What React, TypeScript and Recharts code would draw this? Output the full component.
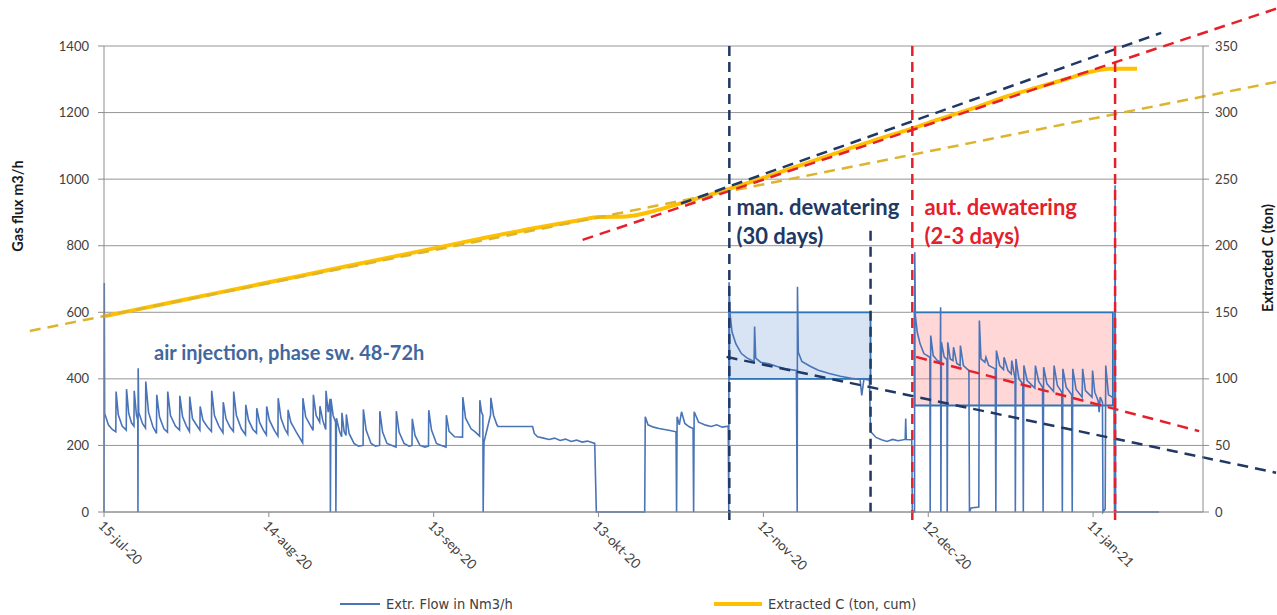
import {
  ComposedChart,
  Line,
  XAxis,
  YAxis,
  CartesianGrid,
  ReferenceLine,
  ReferenceArea,
  ReferenceDot,
} from "recharts";

// x = days since 15-jul-20
const dateTicks = [0, 30, 60, 90, 120, 150, 180];
const dateLabels = ["15-jul-20", "14-aug-20", "13-sep-20", "13-okt-20", "12-nov-20", "12-dec-20", "11-jan-21"];
const flowTicks = [0, 200, 400, 600, 800, 1000, 1200, 1400];
const carbonTicks = [0, 50, 100, 150, 200, 250, 300, 350];

// [day, Extr. Flow in Nm3/h]
const flowPoints: [number, number][] = [
  [0, 0], [0.05, 688], [0.12, 296], [0.8, 262], [1.5, 248], [2.15, 241],
  [2.2, 362], [2.6, 292], [3.3, 258], [4.05, 246],
  [4.1, 369], [4.5, 296], [5.0, 268], [5.45, 258],
  [5.5, 364], [5.9, 292], [6.15, 276], [6.18, 0], [6.22, 432], [6.32, 300], [7.0, 266], [7.55, 252],
  [7.6, 392], [8.1, 300], [8.9, 256], [9.55, 236],
  [9.6, 352], [10.1, 286], [10.9, 250], [11.55, 240],
  [11.6, 362], [12.1, 290], [13.0, 258], [13.75, 246],
  [13.8, 349], [14.3, 286], [15.0, 258], [15.55, 242],
  [15.6, 347], [16.1, 280], [16.8, 262], [17.45, 246],
  [17.5, 317], [18.0, 276], [18.8, 256], [19.55, 242],
  [19.6, 364], [20.1, 290], [20.9, 258], [21.65, 238],
  [21.7, 330], [22.2, 280], [22.9, 256], [23.55, 242],
  [23.6, 362], [24.1, 290], [25.0, 250], [25.75, 232],
  [25.8, 322], [26.3, 276], [27.1, 248], [27.75, 237],
  [27.8, 312], [28.3, 270], [29.0, 246], [29.55, 232],
  [29.6, 317], [30.1, 276], [31.0, 245], [31.65, 228],
  [31.7, 342], [32.2, 282], [32.9, 250], [33.45, 234],
  [33.5, 307], [34.0, 270], [35.0, 240], [36.15, 208],
  [36.2, 342], [36.7, 286], [37.5, 262], [38.05, 245],
  [38.1, 352], [38.6, 290], [39.25, 270], [39.3, 318], [39.8, 276], [40.35, 248],
  [40.4, 364], [40.8, 300], [41.15, 340], [41.2, 0], [41.3, 340], [41.7, 290], [42.15, 270], [42.2, 0], [42.3, 282], [42.9, 240], [43.25, 226],
  [43.3, 298], [43.7, 242], [44.05, 230], [44.1, 293], [44.6, 236], [45.5, 206], [46.3, 198], [47.15, 200],
  [47.2, 308], [47.7, 246], [48.6, 206], [49.4, 198], [50.15, 200],
  [50.2, 303], [50.7, 240], [51.5, 206], [52.4, 200], [53.15, 195],
  [53.2, 303], [53.7, 240], [54.6, 206], [55.5, 198], [56.05, 200],
  [56.1, 280], [56.6, 230], [57.5, 200], [58.4, 195], [59.05, 198],
  [59.1, 306], [59.6, 246], [60.5, 206], [61.4, 200], [62.25, 195],
  [62.3, 291], [62.8, 242], [63.8, 226], [65.25, 225],
  [65.3, 345], [65.8, 282], [66.8, 250], [67.6, 240], [68.35, 228],
  [68.4, 336], [68.7, 300], [68.95, 290], [69.0, 0], [69.15, 210], [70.35, 292],
  [70.4, 343], [70.9, 290], [71.5, 262], [71.7, 257], [78.0, 257],
  [78.3, 236], [78.9, 226], [80.0, 222], [81.0, 218], [82.0, 222], [83.0, 215], [84.0, 219], [85.0, 212], [86.0, 216], [87.0, 210], [88.0, 213], [89.3, 206], [89.6, 0], [98.4, 0],
  [98.5, 286], [99.0, 262], [100.0, 255], [101.0, 251], [102.0, 248], [103.0, 245], [104.1, 241], [104.2, 0], [104.3, 286], [104.7, 262], [105.1, 301], [105.7, 266], [106.5, 256], [107.2, 251], [107.3, 0], [107.4, 301], [108.2, 270], [109.5, 261], [110.5, 257], [111.5, 262], [112.5, 255], [113.6, 258], [113.7, 0],
  [113.75, 690], [113.9, 600], [114.3, 540], [115.0, 505], [116.0, 476], [117.0, 463], [118.3, 452], [118.4, 557], [118.6, 462], [119.5, 450], [121.0, 445], [122.5, 437], [124.0, 430], [126.0, 425], [126.15, 0], [126.2, 677], [126.35, 480], [127.0, 452], [128.5, 438], [130.0, 426], [132.0, 416], [134.0, 408], [136.0, 402], [137.6, 398], [137.9, 350], [138.3, 400], [139.3, 396], [139.5, 242], [140.5, 224], [141.5, 217], [142.5, 212], [143.5, 218], [144.5, 214], [145.8, 218], [145.9, 281], [146.0, 218], [147.0, 217], [147.1, 0],
  [147.5, 0], [147.55, 780], [147.65, 590], [148.0, 540], [148.5, 506], [149.2, 476], [150.3, 465], [150.35, 0], [150.45, 530], [150.9, 470], [151.6, 456], [152.2, 450], [152.25, 615], [152.3, 0], [152.4, 510], [152.9, 466], [153.4, 458], [153.45, 0], [153.55, 510], [154.0, 460], [154.5, 455], [154.6, 495], [155.2, 446], [155.8, 440], [155.85, 500], [156.4, 440], [157.4, 425], [157.5, 0], [157.8, 12], [159.2, 15], [159.3, 575], [159.6, 460], [160.3, 450], [160.5, 465], [161.0, 440], [162.2, 430], [162.3, 0], [162.4, 485], [163.0, 440], [163.7, 428], [163.8, 465], [164.5, 425], [165.1, 415], [165.2, 455], [165.8, 400], [165.85, 0], [165.95, 460], [166.5, 400], [167.2, 385], [167.3, 0], [167.4, 440], [168.0, 395], [169.4, 372], [169.5, 440], [170.1, 392], [170.8, 375], [170.9, 0], [171.0, 435], [171.6, 385], [172.8, 362], [172.9, 440], [173.5, 380], [174.3, 360], [174.4, 0], [174.5, 430], [175.1, 375], [176.1, 352], [176.2, 0], [176.3, 430], [176.9, 368], [178.0, 345], [178.1, 430], [178.6, 365], [179.8, 345], [179.9, 425], [180.3, 360], [180.9, 335], [181.1, 300], [181.3, 345], [181.7, 330], [181.8, 0], [182.2, 10], [182.3, 440], [182.8, 352], [183.5, 345], [183.8, 330], [183.9, 0], [184.0, 982], [184.1, 0], [192.0, 0],
];

// [day, Extracted C (ton, cum)]
const carbonPoints: [number, number][] = [
  [0, 147], [10, 155.5], [20, 164], [30, 172.5], [40, 181], [50, 189.5], [60, 198], [70, 206.5], [80, 214.5], [87, 219.5],
  [90, 221.5], [95, 222], [100, 226], [105, 232], [110, 238], [114, 243], [120, 251], [125, 258], [130, 265], [135, 272],
  [140, 279], [147, 288], [152, 295], [158, 303], [165, 313], [170, 319], [175, 325], [180, 331], [183, 333], [188, 333],
];

// trend lines: [day, value] end points
const yellowTrendC = [[-13.5, 136], [213.3, 323]];
const navyTrendC = [[105, 231.7], [192.4, 359.9]];
const redTrendC = [[87.1, 204.4], [213.3, 378]];
const navyTrendFlow = [[113.3, 466], [213.3, 118]];
const redTrendFlow = [[147.8, 466], [199.3, 243]];

// phase markers (days) and flow bands
const manPhase = [113.8, 139.5];
const autPhase = [147.1, 184];
const manBox = [113.8, 139.5, 400, 600];
const autBox = [147.5, 183.6, 320, 600];

const flowData = flowPoints.map(([day, flow]) => ({ day, flow }));
const carbonData = carbonPoints.map(([day, c]) => ({ day, c }));

const seg = (p: number[][]) => [{ x: p[0][0], y: p[0][1] }, { x: p[1][0], y: p[1][1] }];

const NAVY = "#203864";
const RED = "#e5202b";
const FLOW = "#4a74b8";
const GOLD = "#ffc000";
const GRID = "#969696";

const DateTick = ({ x, y, payload }: any) => {
  const label = dateLabels[dateTicks.indexOf(payload.value)];
  const tx = x - 3;
  const ty = y + 4;
  return (
    <text x={tx} y={ty} transform={`rotate(45 ${tx} ${ty})`} fontSize={13.5} fill="#404040" dominantBaseline="central">
      {label}
    </text>
  );
};

const LeftTitle = (props: any) => {
  const vb = props.viewBox;
  const cx = vb.x + 17;
  const cy = vb.y + 160;
  return (
    <text x={cx} y={cy} transform={`rotate(-90 ${cx} ${cy})`} textAnchor="middle" dominantBaseline="central" fontSize={14.5} fontWeight="bold" fill="#1a1a1a">
      Gas flux m3/h
    </text>
  );
};

const RightTitle = (props: any) => {
  const vb = props.viewBox;
  const cx = vb.x + 64;
  const cy = vb.y + 212;
  return (
    <text x={cx} y={cy} transform={`rotate(-90 ${cx} ${cy})`} textAnchor="middle" dominantBaseline="central" fontSize={14.5} fontWeight="bold" fill="#1a1a1a">
      Extracted C (ton)
    </text>
  );
};

const note = (value: string, fill: string, fontSize: number) => ({
  value,
  position: "right" as const,
  offset: 0,
  fill,
  fontSize,
  fontWeight: "bold",
});

export default function App() {
  return (
    <div style={{ position: "absolute", left: 0, top: 0, width: 1277, height: 615, background: "#fff", fontFamily: "Lato, 'Open Sans', sans-serif" }}>
      <ComposedChart width={1277} height={615} margin={{ top: 46, right: 0, bottom: 0, left: 0 }}>
        <CartesianGrid yAxisId="left" vertical={false} stroke={GRID} />
        <XAxis
          type="number"
          dataKey="day"
          domain={[0, 200]}
          ticks={dateTicks}
          interval={0}
          height={103}
          tickSize={5}
          stroke="#8c8c8c"
          tick={DateTick}
        />
        <YAxis
          yAxisId="left"
          domain={[0, 1400]}
          ticks={flowTicks}
          width={104}
          tickSize={6}
          tickMargin={9}
          stroke="#8c8c8c"
          tick={{ fill: "#404040", fontSize: 13 }}
          label={LeftTitle}
        />
        <YAxis
          yAxisId="right"
          orientation="right"
          domain={[0, 350]}
          ticks={carbonTicks}
          width={74}
          tickSize={6}
          tickMargin={6}
          stroke="#8c8c8c"
          tick={{ fill: "#404040", fontSize: 13 }}
          label={RightTitle}
        />

        <Line yAxisId="left" data={flowData} dataKey="flow" type="linear" stroke={FLOW} strokeWidth={1.6} dot={false} isAnimationActive={false} />

        <ReferenceArea yAxisId="left" x1={manBox[0]} x2={manBox[1]} y1={manBox[2]} y2={manBox[3]} fill="#8fb2e0" fillOpacity={0.35} stroke="#2e75b6" strokeWidth={1.8} ifOverflow="visible" />
        <ReferenceArea yAxisId="left" x1={autBox[0]} x2={autBox[1]} y1={autBox[2]} y2={autBox[3]} fill="#ff8c8c" fillOpacity={0.35} stroke="#2e75b6" strokeWidth={1.8} ifOverflow="visible" />

        <Line yAxisId="right" data={carbonData} dataKey="c" type="monotone" stroke={GOLD} strokeWidth={4} dot={false} isAnimationActive={false} />

        <ReferenceLine yAxisId="right" segment={seg(yellowTrendC)} stroke="#dcb42e" strokeWidth={2.5} strokeDasharray="11 7" ifOverflow="visible" />
        <ReferenceLine yAxisId="right" segment={seg(redTrendC)} stroke={RED} strokeWidth={2.5} strokeDasharray="11 7" ifOverflow="visible" />
        <ReferenceLine yAxisId="right" segment={seg(navyTrendC)} stroke={NAVY} strokeWidth={2.5} strokeDasharray="11 7" ifOverflow="visible" />
        <ReferenceLine yAxisId="left" segment={seg(navyTrendFlow)} stroke={NAVY} strokeWidth={2.5} strokeDasharray="11 7" ifOverflow="visible" />
        <ReferenceLine yAxisId="left" segment={seg(redTrendFlow)} stroke={RED} strokeWidth={2.5} strokeDasharray="11 7" ifOverflow="visible" />

        <ReferenceLine yAxisId="left" segment={[{ x: manPhase[0], y: 1400 }, { x: manPhase[0], y: -27 }]} stroke={NAVY} strokeWidth={2.5} strokeDasharray="10 6" ifOverflow="visible" />
        <ReferenceLine yAxisId="left" segment={[{ x: manPhase[1], y: 845 }, { x: manPhase[1], y: 0 }]} stroke={NAVY} strokeWidth={2.5} strokeDasharray="10 6" ifOverflow="visible" />
        <ReferenceLine yAxisId="left" segment={[{ x: autPhase[0], y: 1400 }, { x: autPhase[0], y: -27 }]} stroke={RED} strokeWidth={2.5} strokeDasharray="10 6" ifOverflow="visible" />
        <ReferenceLine yAxisId="left" segment={[{ x: autPhase[1], y: 1400 }, { x: autPhase[1], y: -27 }]} stroke={RED} strokeWidth={2.5} strokeDasharray="10 6" ifOverflow="visible" />

        <ReferenceDot yAxisId="left" x={9.1} y={478} r={0} ifOverflow="visible" label={note("air injection, phase sw. 48-72h", "#41679e", 20)} />
        <ReferenceDot yAxisId="left" x={115.1} y={916} r={0} ifOverflow="visible" label={note("man. dewatering", NAVY, 22)} />
        <ReferenceDot yAxisId="left" x={115.1} y={829} r={0} ifOverflow="visible" label={note("(30 days)", NAVY, 22)} />
        <ReferenceDot yAxisId="left" x={149.3} y={916} r={0} ifOverflow="visible" label={note("aut. dewatering", RED, 22)} />
        <ReferenceDot yAxisId="left" x={149.3} y={829} r={0} ifOverflow="visible" label={note("(2-3 days)", RED, 22)} />
      </ComposedChart>

      <div style={{ position: "absolute", top: 594, left: 0, width: 1277, height: 20, fontSize: 14.5, color: "#404040", fontFamily: "'DejaVu Sans', Lato, sans-serif", fontStretch: "condensed" }}>
        <div style={{ position: "absolute", left: 340, top: 9, width: 40, height: 1.5, background: FLOW }} />
        <div style={{ position: "absolute", left: 386, top: 0, lineHeight: "20px" }}>Extr. Flow in Nm3/h</div>
        <div style={{ position: "absolute", left: 714, top: 8, width: 48, height: 4, background: GOLD }} />
        <div style={{ position: "absolute", left: 768, top: 0, lineHeight: "20px" }}>Extracted C (ton, cum)</div>
      </div>
    </div>
  );
}
